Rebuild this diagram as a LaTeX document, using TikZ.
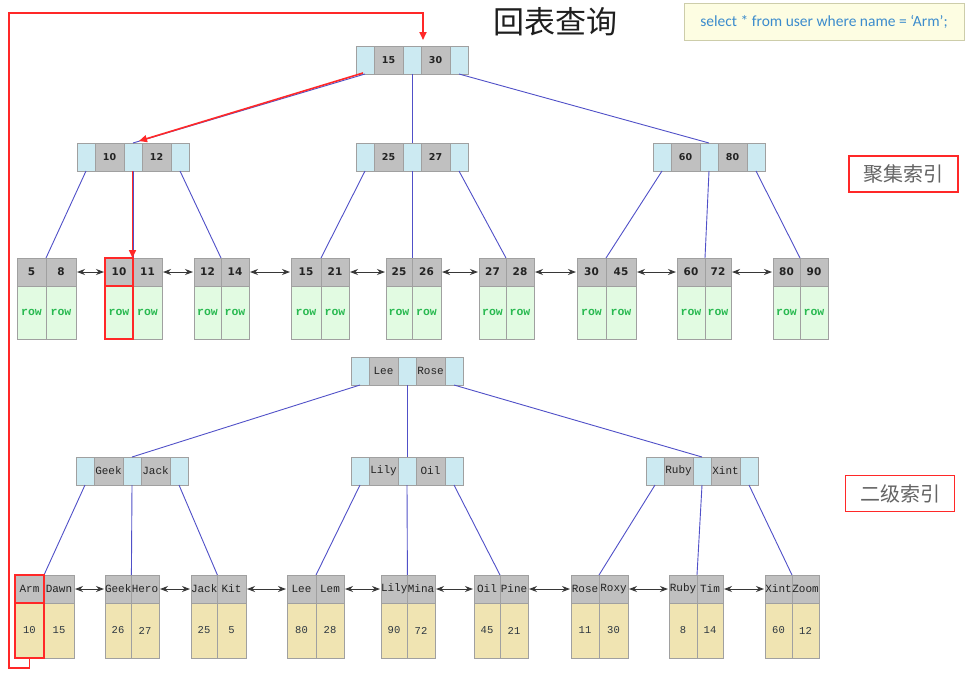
\documentclass[tikz,border=0pt]{standalone}
\usepackage{fontspec}
\usetikzlibrary{arrows.meta}
\newfontfamily\cjkfont{Noto Sans CJK SC}
\newfontfamily\vfont{DejaVu Sans}
\newfontfamily\cfont{Liberation Mono}
\newfontfamily\selfont{Carlito}
\definecolor{lightcyan}{RGB}{204,234,242}
\definecolor{keygray}{RGB}{192,192,192}
\definecolor{bordergray}{RGB}{160,160,160}
\definecolor{keytext}{RGB}{35,35,35}
\definecolor{rowgreen}{RGB}{226,251,226}
\definecolor{rowtext}{RGB}{40,185,80}
\definecolor{valkhaki}{RGB}{240,228,178}
\definecolor{valtext}{RGB}{45,55,65}
\definecolor{linkblue}{RGB}{80,80,200}
\definecolor{arrowgray}{RGB}{55,55,55}
\definecolor{redc}{RGB}{255,40,40}
\definecolor{labelgray}{RGB}{100,100,100}
\definecolor{selfill}{RGB}{253,253,226}
\definecolor{selborder}{RGB}{205,205,170}
\definecolor{seltext}{RGB}{60,140,205}
\tikzset{
 cell/.style={draw=bordergray, line width=0.9pt, inner sep=0pt, outer sep=0pt},
 lcell/.style={cell, fill=lightcyan, minimum width=18pt, minimum height=28pt},
 gcell/.style={cell, fill=keygray, minimum width=29pt, minimum height=28pt, text=keytext},
 ckeyfont/.style={font=\vfont\bfseries\fontsize{9.5}{10}\selectfont},
 skeyfont/.style={font=\cfont\fontsize{11}{12}\selectfont},
 ckey/.style={cell, fill=keygray, minimum height=28pt, text=keytext, font=\vfont\bfseries\fontsize{10.5}{11}\selectfont},
 crow/.style={cell, fill=rowgreen, minimum height=53pt, text=rowtext, font=\cfont\bfseries\fontsize{11.5}{12}\selectfont},
 skey/.style={cell, fill=keygray, minimum height=28pt, text=keytext, font=\cfont\fontsize{11}{12}\selectfont},
 sval/.style={cell, fill=valkhaki, minimum height=55pt, text=valtext, font=\cfont\fontsize{10.5}{11}\selectfont},
 link/.style={draw=linkblue, line width=0.9pt},
 leafarrow/.style={draw=arrowgray, line width=1pt, {Stealth[length=8pt,width=6pt]}-{Stealth[length=8pt,width=6pt]}, shorten <=1pt, shorten >=1pt},
 redline/.style={draw=redc, line width=1.6pt, -{Triangle[length=8pt,width=7pt]}},
 redbox/.style={draw=redc, line width=1.8pt},
 labelbox/.style={draw=redc, line width=1.5pt, minimum width=109pt, minimum height=36pt, inner sep=0pt, text=labelgray, font=\cjkfont\fontsize{20}{20}\selectfont},
}
\newcommand{\inode}[6]{%
 \node[lcell, anchor=north west] (#1l1) at (#2,#3) {};
 \node[gcell, #6, anchor=west] (#1k1) at (#1l1.east) {#4};
 \node[lcell, anchor=west] (#1l2) at (#1k1.east) {};
 \node[gcell, #6, anchor=west] (#1k2) at (#1l2.east) {#5};
 \node[lcell, anchor=west] (#1l3) at (#1k2.east) {};
}
\newcommand{\cleaf}[6]{%
 \node[ckey, anchor=north west, minimum width={(#3-#2)*1pt}] (#1a) at (#2,258) {#5};
 \node[ckey, anchor=north west, minimum width={(#4-#3)*1pt}] (#1b) at (#3,258) {#6};
 \node[crow, anchor=north west, minimum width={(#3-#2)*1pt}] (#1va) at (#1a.south west) {row};
 \node[crow, anchor=north west, minimum width={(#4-#3)*1pt}] (#1vb) at (#1b.south west) {row};
}
\newcommand{\sleaf}[8]{%
 \node[skey, anchor=north west, minimum width={(#3-#2)*1pt}] (#1a) at (#2,575) {#5};
 \node[skey, anchor=north west, minimum width={(#4-#3)*1pt}] (#1b) at (#3,575) {#6};
 \node[sval, anchor=north west, minimum width={(#3-#2)*1pt}] (#1va) at (#1a.south west) {#7};
 \node[sval, anchor=north west, minimum width={(#4-#3)*1pt}] (#1vb) at (#1b.south west) {#8};
}
\begin{document}
\begin{tikzpicture}[x=1pt, y=-1pt]
\useasboundingbox (0,0) rectangle (968,681);
\fill[white] (0,0) rectangle (968,681);

% title and sql
\node[font=\cjkfont\fontsize{31}{31}\selectfont, text={rgb,255:red,30;green,30;blue,30}] (title) at (555,22) {回表查询};
\node[draw=selborder, fill=selfill, line width=0.8pt, minimum width=280pt, minimum height=37pt, inner sep=0pt, text=seltext, font=\selfont\fontsize{15.5}{16}\selectfont] (sql) at (824,21.5) {select * from user where name = ‘Arm’;};

% labels
\node[labelbox] (lab1) at (903.5,174) {聚集索引};
\node[labelbox] (lab2) at (900,493.5) {二级索引};

% clustered index internal nodes
\inode{cR}{356}{46}{15}{30}{ckeyfont}
\inode{cL}{77}{143}{10}{12}{ckeyfont}
\inode{cM}{356}{143}{25}{27}{ckeyfont}
\inode{cN}{653}{143}{60}{80}{ckeyfont}

% clustered leaves
\cleaf{c1}{17}{46}{76}{5}{8}
\cleaf{c2}{105}{133}{162}{10}{11}
\cleaf{c3}{194}{221}{249}{12}{14}
\cleaf{c4}{291}{321}{349}{15}{21}
\cleaf{c5}{386}{412}{441}{25}{26}
\cleaf{c6}{479}{506}{534}{27}{28}
\cleaf{c7}{577}{606}{636}{30}{45}
\cleaf{c8}{677}{705}{731}{60}{72}
\cleaf{c9}{773}{800}{828}{80}{90}

% secondary index internal nodes
\inode{sR}{351}{357}{Lee}{Rose}{skeyfont}
\inode{sL}{76}{457}{Geek}{Jack}{skeyfont}
\inode{sM}{351}{457}{Lily}{Oil}{skeyfont}
\inode{sN}{646}{457}{Ruby}{Xint}{skeyfont}

% secondary leaves
\sleaf{s1}{15}{44}{74}{Arm}{Dawn}{10}{15}
\sleaf{s2}{105}{131}{159}{Geek}{Hero}{26}{27}
\sleaf{s3}{191}{217}{246}{Jack}{Kit}{25}{5}
\sleaf{s4}{287}{316}{344}{Lee}{Lem}{80}{28}
\sleaf{s5}{381}{407}{435}{Lily}{Mina}{90}{72}
\sleaf{s6}{474}{500}{528}{Oil}{Pine}{45}{21}
\sleaf{s7}{571}{599}{628}{Rose}{Roxy}{11}{30}
\sleaf{s8}{669}{697}{723}{Ruby}{Tim}{8}{14}
\sleaf{s9}{765}{792}{819}{Xint}{Zoom}{60}{12}

% clustered links
\draw[link] (cRl1.south) -- (cLl2.north);
\draw[link] (cRl2.south) -- (cMl2.north);
\draw[link] (cRl3.south) -- (cNl2.north);
\draw[link] (cLl1.south) -- (c1a.north east);
\draw[link] (cLl2.south) -- (c2a.north east);
\draw[link] (cLl3.south) -- (c3a.north east);
\draw[link] (cMl1.south) -- (c4a.north east);
\draw[link] (cMl2.south) -- (c5a.north east);
\draw[link] (cMl3.south) -- (c6a.north east);
\draw[link] (cNl1.south) -- (c7a.north east);
\draw[link] (cNl2.south) -- (c8a.north east);
\draw[link] (cNl3.south) -- (c9a.north east);

% secondary links
\draw[link] (sRl1.south) -- (sLl2.north);
\draw[link] (sRl2.south) -- (sMl2.north);
\draw[link] (sRl3.south) -- (sNl2.north);
\draw[link] (sLl1.south) -- (s1a.north east);
\draw[link] (sLl2.south) -- (s2a.north east);
\draw[link] (sLl3.south) -- (s3a.north east);
\draw[link] (sMl1.south) -- (s4a.north east);
\draw[link] (sMl2.south) -- (s5a.north east);
\draw[link] (sMl3.south) -- (s6a.north east);
\draw[link] (sNl1.south) -- (s7a.north east);
\draw[link] (sNl2.south) -- (s8a.north east);
\draw[link] (sNl3.south) -- (s9a.north east);

% leaf sibling arrows
\foreach \p/\q in {c1/c2,c2/c3,c3/c4,c4/c5,c5/c6,c6/c7,c7/c8,c8/c9,s1/s2,s2/s3,s3/s4,s4/s5,s5/s6,s6/s7,s7/s8,s8/s9}
  \draw[leafarrow] (\p b.east) -- (\q a.west);

% red highlights
\draw[redbox] (c2a.north west) rectangle (c2a.south east);
\draw[redbox] (c2va.north west) rectangle (c2va.south east);
\draw[redbox] (s1a.north west) rectangle (s1a.south east);
\draw[redbox] (s1va.north west) rectangle (s1va.south east);
\draw[redline] ([xshift=-2pt,yshift=1pt]cRl1.south) -- ([xshift=6pt,yshift=2pt]cLl2.north);
\draw[redline] ([xshift=-0.5pt]cLl2.south) -- ([xshift=-0.5pt]c2a.north east);

\coordinate (rp1) at (9,668);
\coordinate (rp2) at (9,13);
\coordinate (rp3) at (423,40);
\draw[redline, line width=1.8pt] (s1va.south) |- (rp1) -- (rp2) -| (rp3);
\end{tikzpicture}
\end{document}
